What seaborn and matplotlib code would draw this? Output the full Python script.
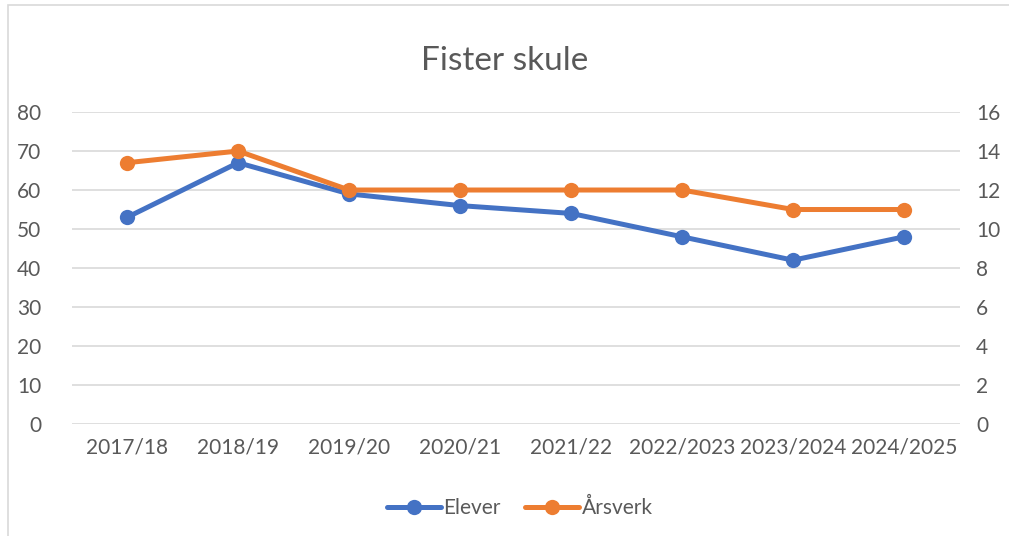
import pandas as pd
import numpy as np
import seaborn as sns
import matplotlib.pyplot as plt
from matplotlib.patches import Rectangle
from matplotlib.lines import Line2D

# --- data ---
years = ['2017/18', '2018/19', '2019/20', '2020/21', '2021/22',
         '2022/2023', '2023/2024', '2024/2025']
elever = [53, 67, 59, 56, 54, 48, 42, 48]
arsverk = [13.4, 14, 12, 12, 12, 12, 11, 11]

blue = '#4472c4'
orange = '#ed7d31'
grey_text = '#595959'

sns.set_theme(style='white')
plt.rcParams['font.family'] = ['Lato', 'DejaVu Sans']

df = pd.DataFrame({'year': years, 'Elever': elever, 'Årsverk': arsverk})
df['pos'] = np.arange(len(years))

fig = plt.figure(figsize=(10.09, 5.36), dpi=100)
ax = fig.add_axes([0.071, 0.209, 0.88, 0.582])
ax2 = ax.twinx()

lw = 3.6
ms = 11
sns.lineplot(data=df, x='pos', y='Elever', ax=ax, color=blue, linewidth=lw,
             marker='o', markersize=ms, markeredgewidth=0, zorder=3)
sns.lineplot(data=df, x='pos', y='Årsverk', ax=ax2, color=orange, linewidth=lw,
             marker='o', markersize=ms, markeredgewidth=0, zorder=3)

ax.set_xlim(-0.5, len(years) - 0.5)
ax.set_ylim(0, 80)
ax2.set_ylim(0, 16)
ax.set_yticks(range(0, 81, 10))
ax2.set_yticks(range(0, 17, 2))
ax.set_xticks(df['pos'])
ax.set_xticklabels(years)

ax.grid(axis='y', color='#d9d9d9', linewidth=1.2)
ax.set_axisbelow(True)
for a in (ax, ax2):
    for s in a.spines.values():
        s.set_visible(False)
    a.set_xlabel('')
    a.set_ylabel('')
    a.tick_params(length=0, labelsize=15, colors=grey_text)
ax.tick_params(axis='y', pad=22)
ax2.tick_params(axis='y', pad=12)
ax.tick_params(axis='x', pad=10)

fig.suptitle('Fister skule', y=0.915, fontsize=24, color=grey_text)

handles = [Line2D([], [], color=blue, lw=lw, marker='o', markersize=ms, markeredgewidth=0),
           Line2D([], [], color=orange, lw=lw, marker='o', markersize=ms, markeredgewidth=0)]
fig.legend(handles, ['Elever', 'Årsverk'], loc='center', bbox_to_anchor=(0.515, 0.052),
           ncol=2, frameon=False, fontsize=15, labelcolor=grey_text,
           handlelength=2.6, handletextpad=0.1, columnspacing=1.2)

# light frame around the chart area, as in the spreadsheet export
fig.patches.append(Rectangle((0.008, -0.01), 1.0, 1.0, transform=fig.transFigure,
                             fill=False, edgecolor='#d9d9d9', linewidth=1.2))

fig.savefig('out.png', dpi=100)
